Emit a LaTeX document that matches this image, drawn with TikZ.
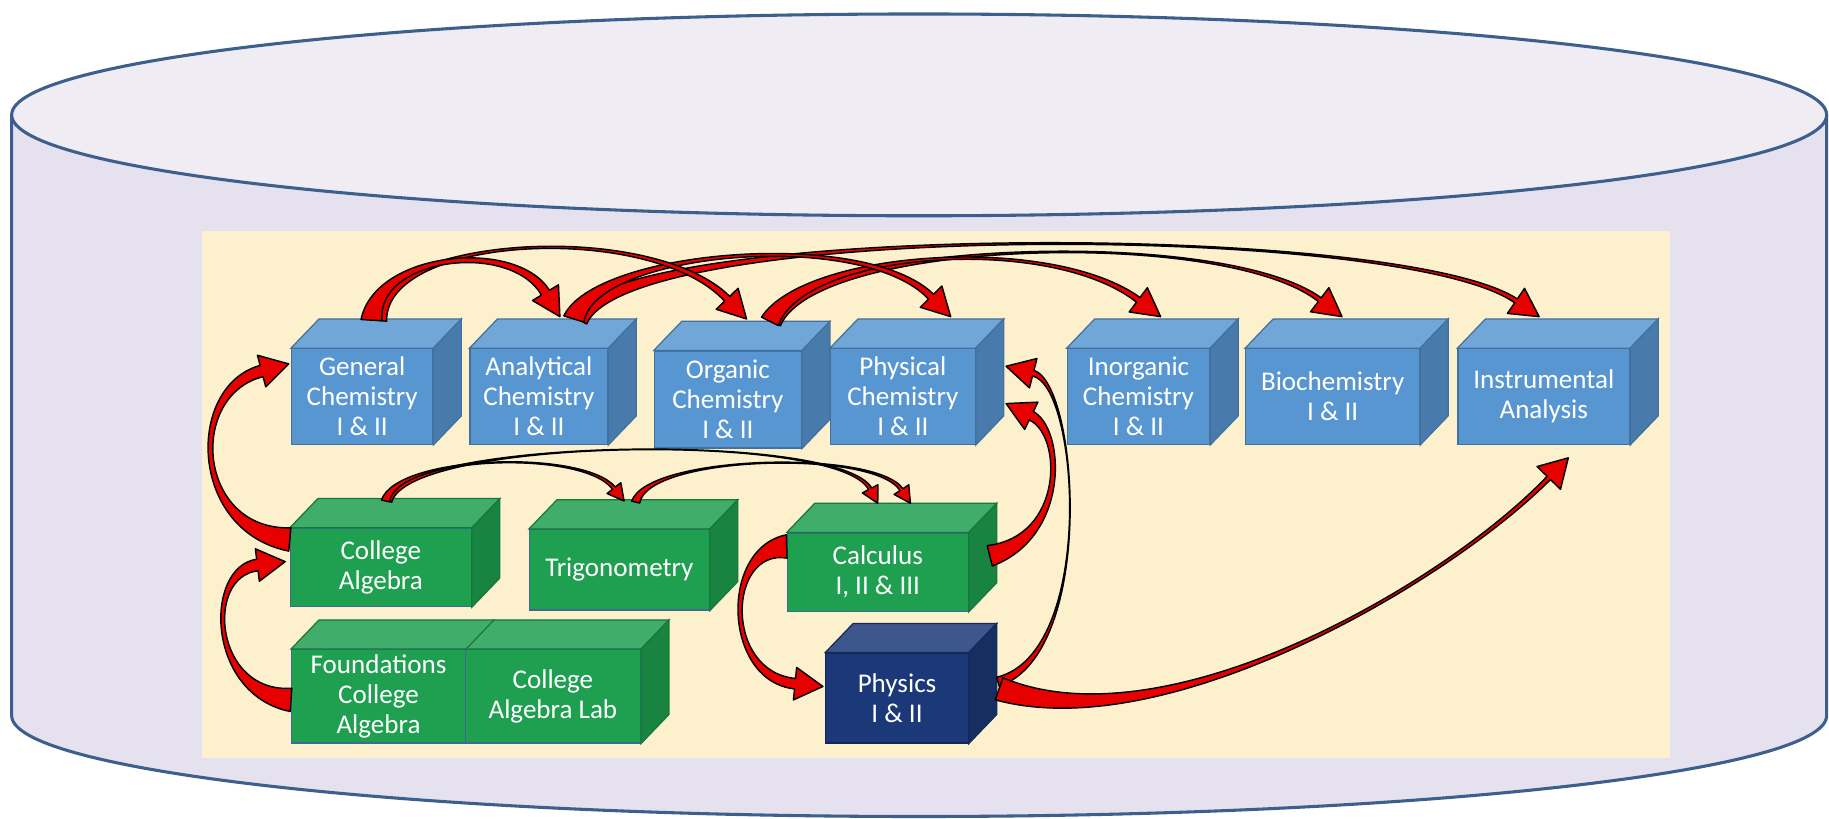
\documentclass[tikz,border=0pt]{standalone}
\usepackage{fontspec}
\setmainfont{Carlito}
\usepackage{tikz}
\usetikzlibrary{calc}

\definecolor{cylline}{HTML}{3C5F8C}
\definecolor{cyltop}{HTML}{EFECF4}
\definecolor{cylbody}{HTML}{E6E1EE}
\definecolor{panel}{HTML}{FDF0CD}
\definecolor{chemblue}{HTML}{5896D2}
\definecolor{mathgreen}{HTML}{1EA050}
\definecolor{physnavy}{HTML}{1B3878}
\definecolor{arrowred}{HTML}{E60000}

\tikzset{
  cubeface/.style={rectangle, inner sep=0pt, align=center, text=white, line width=0.3pt,
    font=\fontsize{6.6}{7.3}\selectfont},
  chembox/.style={cubeface, fill=chemblue, draw=chemblue!75!black},
  mathbox/.style={cubeface, fill=mathgreen, draw=chemblue!70!black},
  physbox/.style={cubeface, fill=physnavy, draw=physnavy!70!black},
  bentarrow/.style={fill=arrowred, draw=black, line width=0.35pt, line join=round}
}

% start, control, control, tip, start half width, end half width, head half width, head length, bend width
\newcommand{\bentarrow}[9]{%
  \path (#1) coordinate (rs) (#2) coordinate (ra) (#3) coordinate (rb) (#4) coordinate (rt);
  \path ($(rt)!#8!(rb)$) coordinate (rh);
  \filldraw[bentarrow] ($(rs)!#5!90:(ra)$) .. controls ($(ra)!#9!90:(rb)$) and ($(rb)!#9!90:(rh)$) .. ($(rh)!#6!-90:(rb)$)
    -- ($(rh)!#7!-90:(rb)$) -- (rt) -- ($(rh)!#7!90:(rb)$) -- ($(rh)!#6!90:(rb)$)
    .. controls ($(rb)!#9!-90:(rh)$) and ($(ra)!#9!-90:(rb)$) .. ($(rs)!#5!-90:(ra)$) -- cycle;
}

\begin{document}
\begin{tikzpicture}[x=0.1mm,y=0.1mm]
    \useasboundingbox (0,0) rectangle (1568,-702);

    \fill[cylbody] (10,-98.5) -- (10,-613.5) arc[start angle=180, end angle=360, x radius=778, y radius=86.5] -- (1566,-98.5) -- cycle;
    \draw[cylline, line width=0.75pt] (10,-98.5) -- (10,-613.5) arc[start angle=180, end angle=360, x radius=778, y radius=86.5] -- (1566,-98.5);
    \filldraw[fill=cyltop, draw=cylline, line width=0.75pt] (788,-98.5) ellipse [x radius=778, y radius=86.5];

    \fill[panel] (173,-198) rectangle (1432,-650);

\node[chembox, minimum width=12.1mm, minimum height=8.2mm] (gen) at (310.5,-340) {General\\Chemistry\\I \& II};
\node[chembox, minimum width=11.8mm, minimum height=8.2mm] (ana) at (462,-340) {Analytical\\Chemistry\\I \& II};
\node[chembox, minimum width=12.6mm, minimum height=8.3mm] (org) at (624,-342.5) {Organic\\Chemistry\\I \& II};
\node[chembox, minimum width=12.4mm, minimum height=8.2mm] (phc) at (774,-340) {Physical\\Chemistry\\I \& II};
\node[chembox, minimum width=12.2mm, minimum height=8.2mm] (inorg) at (976,-340) {Inorganic\\Chemistry\\I \& II};
\node[chembox, minimum width=14.9mm, minimum height=8.2mm] (bio) at (1142.5,-340) {Biochemistry\\I \& II};
\node[chembox, minimum width=14.7mm, minimum height=8.2mm] (instr) at (1323.5,-340) {Instrumental\\Analysis};

\node[mathbox, minimum width=15.5mm, minimum height=6.7mm] (calg) at (326.5,-486.5) {College\\Algebra};
\node[mathbox, minimum width=15.4mm, minimum height=6.9mm] (trig) at (531,-488.5) {Trigonometry};
\node[mathbox, minimum width=15.5mm, minimum height=6.7mm] (calc) at (752.5,-490.5) {Calculus\\I, II \& III};
\node[mathbox, minimum width=14.9mm, minimum height=8mm] (found) at (324.5,-597) {Foundations\\College\\Algebra};
\node[mathbox, minimum width=15mm, minimum height=8mm] (lab) at (474,-597) {College\\Algebra Lab};
\node[physbox, minimum width=12.2mm, minimum height=7.7mm] (phys) at (769,-598.5) {Physics\\I \& II};

\foreach \n/\c in {gen/chemblue, ana/chemblue, org/chemblue, phc/chemblue, inorg/chemblue, bio/chemblue, instr/chemblue,
    calg/mathgreen, trig/mathgreen, calc/mathgreen, lab/mathgreen, phys/physnavy}{
  \filldraw[fill=\c!85!white, draw=\c!75!black, line width=0.3pt] (\n.north west) -- ++(24,25) -- ($(\n.north east)+(24,25)$) -- (\n.north east) -- cycle;
  \filldraw[fill=\c!82!black, draw=\c!75!black, line width=0.3pt] (\n.north east) -- ++(24,25) -- ($(\n.south east)+(24,25)$) -- (\n.south east) -- cycle;
}
\filldraw[fill=mathgreen!85!white, draw=mathgreen!75!black, line width=0.3pt] (found.north west) -- ++(24,25) -- ($(found.north east)+(24,25)$) -- (found.north east) -- cycle;

\bentarrow{$(ana.north)+(33,25)$}{540,-190}{1200,-190}{$(instr.north)+(-4,27)$}{.9mm}{.2mm}{1.3mm}{2.4mm}{0mm}
\bentarrow{$(org.north)+(38,25)$}{700,-205}{1050,-195}{$(bio.north)+(8,27)$}{.8mm}{.2mm}{1.3mm}{2.4mm}{0mm}
\bentarrow{$(org.north)+(36,25)$}{690,-215}{900,-200}{$(inorg.north)+(19,27)$}{.8mm}{.25mm}{1.3mm}{2.4mm}{.05mm}
\bentarrow{$(ana.north)+(30,25)$}{510,-215}{740,-195}{$(phc.north)+(41,27)$}{.9mm}{.3mm}{1.3mm}{2.4mm}{.1mm}
\bentarrow{$(gen.north)+(12,24)$}{330,-200}{560,-190}{$(org.north)+(16,27)$}{.9mm}{.3mm}{1.3mm}{2.4mm}{.08mm}
\bentarrow{$(gen.north)+(8,24)$}{322,-218}{440,-205}{$(ana.north)+(18,27)$}{.9mm}{.4mm}{1.3mm}{2.4mm}{.3mm}

\bentarrow{$(calg.north)+(6,23)$}{350,-375}{720,-370}{$(calc.north)+(0,25)$}{.35mm}{.15mm}{.75mm}{1.4mm}{0mm}
\bentarrow{$(calg.north)+(4,23)$}{340,-390}{500,-385}{$(trig.north)+(4,24)$}{.35mm}{.15mm}{.75mm}{1.4mm}{.03mm}
\bentarrow{$(trig.north)+(14,23)$}{555,-390}{750,-385}{$(calc.north)+(28,25)$}{.35mm}{.15mm}{.75mm}{1.4mm}{.03mm}

\bentarrow{$(calg.west)+(0,24)$}{165,-455}{160,-335}{$(gen.west)+(-2,28)$}{1mm}{.5mm}{1.4mm}{2.4mm}{.4mm}
\bentarrow{$(found.west)+(0,-3)$}{180,-595}{175,-490}{$(calg.west)+(-4,5)$}{1mm}{.5mm}{1.4mm}{2.4mm}{.4mm}

\bentarrow{$(calc.west)+(0,22)$}{620,-470}{620,-580}{$(phys.west)+(-2,10)$}{1mm}{.45mm}{1.4mm}{2.4mm}{.4mm}
\bentarrow{$(phys.east)+(25,14)$}{940,-560}{925,-330}{$(phc.east)+(26,26)$}{.4mm}{.25mm}{1.3mm}{2.4mm}{0mm}
\bentarrow{$(calc.east)+(18,14)$}{915,-460}{912,-370}{$(phc.east)+(26,-6)$}{.9mm}{.4mm}{1.3mm}{2.4mm}{.3mm}
\bentarrow{$(phys.east)+(26,8)$}{1000,-640}{1240,-500}{$(instr.south)+(21,-11)$}{1mm}{.2mm}{1.4mm}{2.4mm}{.05mm}
\end{tikzpicture}
\end{document}
